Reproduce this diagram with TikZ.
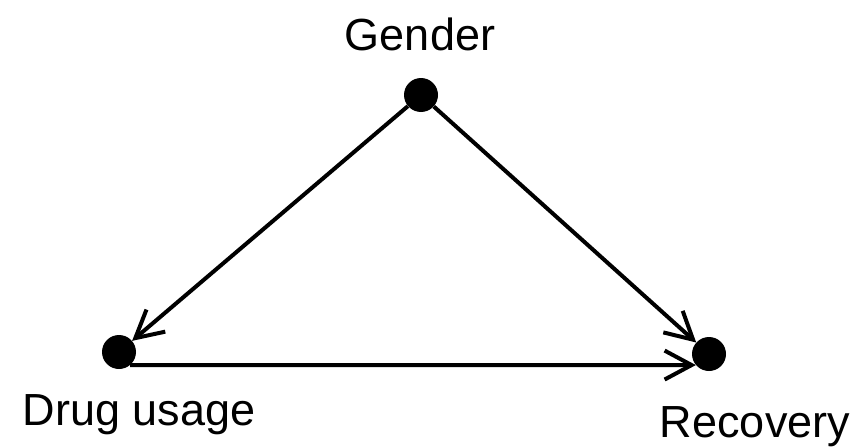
\documentclass[tikz,border=0pt]{standalone}
\usepackage{fontspec}
\setmainfont{Liberation Sans}
\usetikzlibrary{arrows.meta}

\tikzset{
    dot/.style={circle, fill=black, inner sep=0pt, minimum size=34pt},
    lbl/.style={anchor=base, inner sep=0pt, font=\fontsize{45pt}{54pt}\selectfont},
    edge/.style={line width=4pt, -{Straight Barb[length=27pt,width=29pt,line width=4pt]}}
}

\begin{document}
\begin{tikzpicture}[x=1pt,y=-1pt]
            \useasboundingbox (0,0) rectangle (860,447);
            % dots
            \node[dot] (gender) at (421,95) {};
            \node[dot] (drug) at (119,352) {};
            \node[dot] (recovery) at (709,354) {};
            % labels
            \node[lbl] (genderlbl) at (420,50) {Gender};
            \node[lbl] (druglbl) at (139,425) {Drug usage};
            \node[lbl] (recoverylbl) at (755,437) {Recovery};
            % arrows
            \draw[edge] (gender) -- (drug);
            \draw[edge] (gender) -- (recovery);
            \draw[edge] (drug.-50) -- (recovery.220);
        \end{tikzpicture}
\end{document}
